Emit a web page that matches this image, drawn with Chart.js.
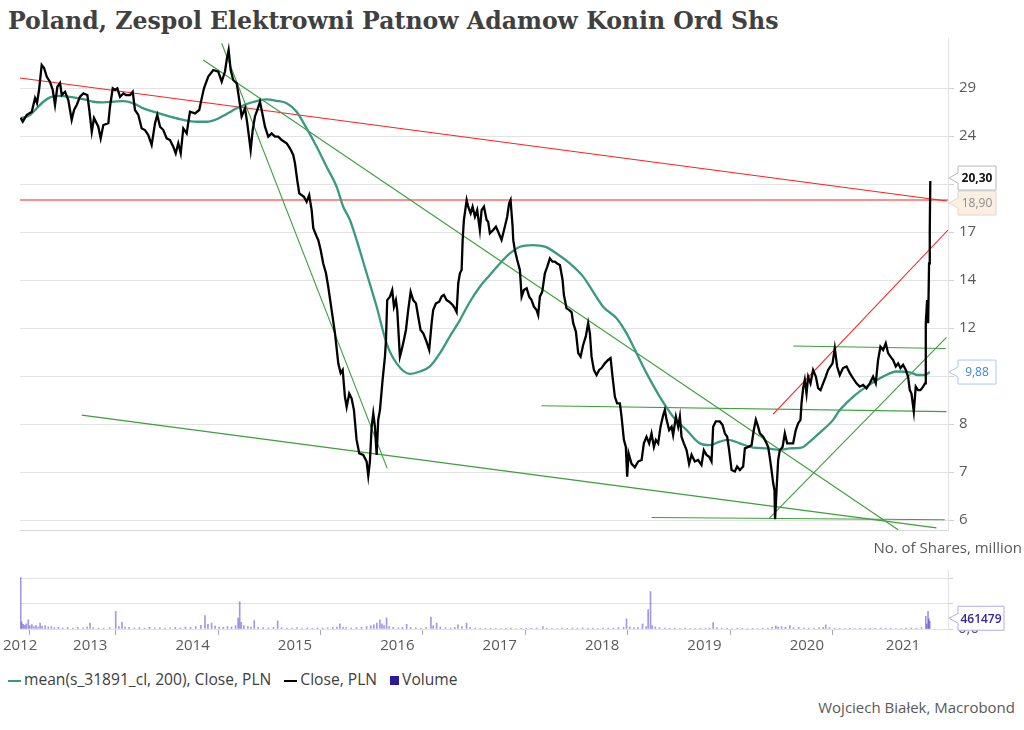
<!DOCTYPE html>
<html>
<head>
<meta charset="utf-8">
<script src="https://cdn.jsdelivr.net/npm/chart.js@4.4.0/dist/chart.umd.min.js"></script>
<style>
  body { margin: 0; background: #fff; width: 1024px; height: 730px; position: relative; overflow: hidden; font-family: 'Open Sans', sans-serif; }
  #title { position: absolute; left: 8px; top: 7px; font: bold 23.6px 'DejaVu Serif', serif; color: #404040; white-space: nowrap; }
  canvas { position: absolute; left: 0; }
  #price { top: 0; }
  #vol { top: 545px; }
  #unit { position: absolute; right: 2px; top: 537px; font-size: 15px; color: #595959; }
  #legend { position: absolute; left: 8px; top: 668px; font-size: 15.6px; color: #404040; white-space: nowrap; }
  #legend span.item { margin-right: 9px; }
  #legend i { display: inline-block; vertical-align: middle; margin-right: 3px; }
  #credit { position: absolute; right: 9px; top: 697px; font-size: 15px; color: #595959; }
</style>
</head>
<body>
<div id="title">Poland, Zespol Elektrowni Patnow Adamow Konin Ord Shs</div>
<canvas id="price" width="1024" height="545"></canvas>
<canvas id="vol" width="1024" height="115"></canvas>
<div id="unit">No. of Shares, million</div>
<div id="legend">
  <span class="item"><i style="width:13px;height:2px;background:#3a9a80"></i>mean(s_31891_cl, 200), Close, PLN</span>
  <span class="item"><i style="width:13px;height:2px;background:#000"></i>Close, PLN</span>
  <span class="item"><i style="width:9px;height:9px;background:#2b1b9b"></i>Volume</span>
</div>
<div id="credit">Wojciech Białek, Macrobond</div>
<script>
// x values are decimal years
const xMin = 2012.814, xMax = 2021.879;

const priceTickValues = [5.655, 6.777, 8.121, 9.733, 11.664, 13.978, 16.752, 20.075, 24.058, 28.83];
const priceTickLabels = ['6', '7', '8', '10', '12', '14', '17', '20', '24', '29'];
const volumeTickValues = [0, 0.5, 1, 1.5, 2, 2.5, 3, 3.5];
const volumeTickLabels = ['0,0', '', '', '', '2,0', '', '', ''];
const yearLabels = [2012, 2013, 2014, 2015, 2016, 2017, 2018, 2019, 2020, 2021];

const close = [
  [2012.821,25.76],[2012.841,25.4],[2012.880,26.05],[2012.929,26.37],[2012.961,27.77],[2012.980,27.25],[2013.000,28.62],[2013.026,31.45],
  [2013.049,31.1],[2013.075,30.1],[2013.107,29.5],[2013.134,28.62],[2013.156,27.05],[2013.179,28.97],[2013.205,29.38],[2013.222,28.08],
  [2013.254,28.43],[2013.286,27.56],[2013.319,25.56],[2013.342,26.54],[2013.368,27.05],[2013.400,27.9],[2013.433,28.26],[2013.472,28.08],
  [2013.491,26.54],[2013.515,24.45],[2013.537,25.75],[2013.579,24.92],[2013.602,23.85],[2013.628,25.08],[2013.677,25.25],[2013.693,26.87],
  [2013.720,28.8],[2013.742,28.62],[2013.765,28.8],[2013.791,27.9],[2013.823,28.26],[2013.849,28.08],[2013.889,28.08],[2013.915,28.43],
  [2013.937,26.54],[2013.970,26.05],[2014.003,24.76],[2014.035,24.61],[2014.067,24.15],[2014.100,23.26],[2014.133,25.25],[2014.155,26.05],
  [2014.182,24.92],[2014.214,24.61],[2014.247,23.85],[2014.279,23.7],[2014.311,23.11],[2014.335,22.54],[2014.360,23.41],[2014.384,22.54],
  [2014.409,24.76],[2014.442,24.3],[2014.474,26.37],[2014.523,26.2],[2014.565,26.54],[2014.589,27.73],[2014.611,28.8],[2014.653,30.1],
  [2014.702,30.86],[2014.751,30.66],[2014.784,29.53],[2014.816,30.66],[2014.833,32.05],[2014.852,33.28],[2014.872,30.86],[2014.897,29.72],
  [2014.931,29.35],[2014.956,27.56],[2014.979,25.9],[2015.012,26.71],[2015.034,25.25],[2015.067,22.82],[2015.087,24.61],[2015.109,25.9],
  [2015.132,26.54],[2015.158,27.38],[2015.178,26.37],[2015.207,24.92],[2015.239,24.0],[2015.272,24.3],[2015.305,24.0],[2015.337,24.0],
  [2015.370,23.7],[2015.419,23.41],[2015.451,22.97],[2015.483,22.4],[2015.500,21.71],[2015.522,20.38],[2015.542,19.38],[2015.588,19.13],
  [2015.614,18.78],[2015.639,19.26],[2015.663,18.2],[2015.679,17.0],[2015.712,16.47],[2015.727,16.26],[2015.751,15.65],[2015.776,14.88],
  [2015.803,14.34],[2015.825,13.63],[2015.858,12.48],[2015.891,11.43],[2015.923,10.21],[2015.946,9.84],[2015.966,9.96],[2015.988,9.0],
  [2016.005,8.66],[2016.030,9.11],[2016.053,8.95],[2016.076,8.56],[2016.102,7.65],[2016.128,7.27],[2016.167,7.23],[2016.200,7.05],
  [2016.216,6.68],[2016.232,7.05],[2016.249,8.04],[2016.265,8.45],[2016.281,8.04],[2016.298,7.23],[2016.313,8.25],[2016.330,8.56],
  [2016.356,9.59],[2016.379,10.47],[2016.389,11.15],[2016.401,12.96],[2016.428,13.13],[2016.450,13.46],[2016.467,12.64],[2016.486,12.96],
  [2016.499,12.48],[2016.525,10.47],[2016.542,10.74],[2016.564,11.15],[2016.584,11.58],[2016.606,12.48],[2016.630,13.37],[2016.655,12.96],
  [2016.682,12.8],[2016.704,12.17],[2016.727,11.58],[2016.753,11.43],[2016.779,11.15],[2016.811,10.74],[2016.835,11.88],[2016.850,12.48],
  [2016.877,12.8],[2016.909,12.88],[2016.932,13.13],[2016.955,13.21],[2016.981,12.96],[2017.007,12.88],[2017.040,12.72],[2017.062,12.56],
  [2017.079,12.39],[2017.095,13.81],[2017.111,14.34],[2017.128,14.52],[2017.138,16.26],[2017.150,17.53],[2017.177,18.9],[2017.192,18.43],
  [2017.216,17.98],[2017.235,18.43],[2017.258,17.75],[2017.280,18.2],[2017.306,16.88],[2017.323,18.2],[2017.346,18.43],[2017.372,17.53],
  [2017.387,17.42],[2017.404,16.67],[2017.436,16.88],[2017.463,17.09],[2017.485,16.77],[2017.518,16.26],[2017.550,17.09],[2017.573,17.75],
  [2017.592,18.66],[2017.606,18.9],[2017.626,17.09],[2017.632,16.26],[2017.648,15.65],[2017.671,15.07],[2017.697,14.52],[2017.714,13.13],
  [2017.736,13.46],[2017.763,13.55],[2017.788,13.13],[2017.811,12.96],[2017.834,12.64],[2017.860,12.48],[2017.876,12.25],[2017.892,13.13],
  [2017.915,13.37],[2017.941,14.34],[2017.964,14.69],[2017.990,15.17],[2018.016,14.98],[2018.039,14.98],[2018.061,14.88],[2018.088,14.79],
  [2018.114,13.98],[2018.127,13.21],[2018.153,12.56],[2018.179,12.48],[2018.202,12.39],[2018.218,11.88],[2018.244,11.51],[2018.267,10.61],
  [2018.290,10.47],[2018.315,10.94],[2018.341,11.3],[2018.364,11.88],[2018.381,11.43],[2018.397,10.47],[2018.420,9.96],[2018.446,9.77],
  [2018.472,9.96],[2018.495,10.03],[2018.527,10.21],[2018.559,10.34],[2018.583,10.41],[2018.602,9.71],[2018.625,9.0],[2018.647,8.78],
  [2018.674,8.78],[2018.690,8.35],[2018.713,7.65],[2018.732,7.45],[2018.745,6.66],[2018.759,7.27],[2018.788,6.99],[2018.820,6.9],
  [2018.852,7.05],[2018.886,7.09],[2018.908,7.55],[2018.934,7.74],[2018.960,7.55],[2018.983,7.84],[2019.006,7.45],[2019.025,7.65],
  [2019.048,7.55],[2019.071,8.04],[2019.097,8.4],[2019.113,8.56],[2019.130,8.25],[2019.155,7.94],[2019.179,8.04],[2019.194,7.79],
  [2019.221,8.35],[2019.243,8.04],[2019.260,8.35],[2019.276,7.74],[2019.299,7.55],[2019.325,7.36],[2019.350,6.99],[2019.374,7.23],
  [2019.406,7.05],[2019.438,7.09],[2019.471,6.96],[2019.494,7.36],[2019.520,7.23],[2019.546,7.18],[2019.569,7.05],[2019.585,8.04],
  [2019.611,8.2],[2019.650,8.2],[2019.677,8.09],[2019.699,7.84],[2019.722,7.74],[2019.741,7.36],[2019.765,6.83],[2019.797,6.79],
  [2019.819,6.92],[2019.846,6.83],[2019.878,6.92],[2019.895,7.41],[2019.927,7.45],[2019.960,7.5],[2019.982,7.94],[2020.002,8.25],
  [2020.024,8.04],[2020.041,7.84],[2020.073,7.74],[2020.099,7.6],[2020.122,7.45],[2020.139,7.14],[2020.155,6.83],[2020.171,6.5],
  [2020.184,6.33],[2020.190,5.67],[2020.204,6.33],[2020.220,7.09],[2020.236,7.36],[2020.263,7.45],[2020.285,7.84],[2020.308,7.55],
  [2020.334,7.55],[2020.366,7.55],[2020.392,7.94],[2020.415,8.14],[2020.438,8.25],[2020.448,8.78],[2020.464,9.3],[2020.480,9.59],
  [2020.497,9.11],[2020.513,9.71],[2020.536,9.47],[2020.561,9.96],[2020.588,9.71],[2020.610,9.3],[2020.634,9.23],[2020.659,9.47],
  [2020.685,9.71],[2020.708,9.96],[2020.731,10.09],[2020.751,10.21],[2020.773,10.81],[2020.796,10.09],[2020.822,9.77],[2020.854,10.03],
  [2020.888,10.09],[2020.920,9.84],[2020.952,9.65],[2020.985,9.47],[2021.017,9.35],[2021.050,9.41],[2021.083,9.29],[2021.115,9.47],
  [2021.147,9.71],[2021.173,9.47],[2021.196,10.34],[2021.219,10.87],[2021.245,10.74],[2021.271,11.01],[2021.294,10.61],[2021.317,10.47],
  [2021.343,10.34],[2021.369,10.09],[2021.392,10.21],[2021.415,10.03],[2021.440,10.15],[2021.467,9.96],[2021.489,9.71],[2021.506,9.23],
  [2021.522,9.11],[2021.545,8.51],[2021.564,9.35],[2021.587,9.23],[2021.610,9.23],[2021.636,9.35],[2021.655,9.47],[2021.662,11.88],
  [2021.675,12.96],[2021.685,11.88],[2021.694,14.88],[2021.701,16.88],[2021.706,20.30]
];

const mean200 = [
  [2012.821,25.73],[2012.912,26.05],[2012.977,26.71],[2013.042,27.38],[2013.107,27.84],[2013.173,28.0],[2013.237,27.97],[2013.335,27.84],
  [2013.432,27.66],[2013.530,27.38],[2013.628,27.32],[2013.725,27.38],[2013.823,27.45],[2013.921,27.22],[2014.019,26.71],[2014.149,26.27],
  [2014.279,25.88],[2014.409,25.56],[2014.540,25.39],[2014.638,25.39],[2014.735,25.63],[2014.833,26.15],[2014.931,26.71],[2015.028,27.15],
  [2015.126,27.45],[2015.223,27.63],[2015.321,27.48],[2015.419,27.22],[2015.516,26.37],[2015.614,24.76],[2015.712,23.11],[2015.809,21.43],
  [2015.907,19.87],[2015.971,18.43],[2016.037,17.53],[2016.102,16.26],[2016.200,14.34],[2016.298,12.64],[2016.395,11.01],[2016.493,10.21],
  [2016.623,9.81],[2016.721,9.9],[2016.818,10.09],[2016.916,10.61],[2017.013,11.3],[2017.111,12.02],[2017.209,12.88],[2017.306,13.63],
  [2017.404,14.25],[2017.502,14.88],[2017.599,15.45],[2017.697,15.85],[2017.827,15.95],[2017.941,15.85],[2018.055,15.45],[2018.185,14.88],
  [2018.315,14.16],[2018.413,13.37],[2018.510,12.64],[2018.641,12.1],[2018.739,11.43],[2018.837,10.61],[2018.934,9.84],[2019.064,9.0],
  [2019.194,8.35],[2019.325,7.94],[2019.455,7.55],[2019.553,7.5],[2019.650,7.6],[2019.731,7.65],[2019.846,7.55],[2019.975,7.43],
  [2020.106,7.41],[2020.236,7.37],[2020.334,7.41],[2020.448,7.43],[2020.529,7.6],[2020.627,7.86],[2020.757,8.25],[2020.822,8.56],
  [2020.952,9.0],[2021.083,9.35],[2021.245,9.71],[2021.376,9.9],[2021.506,9.87],[2021.587,9.77],[2021.652,9.77],[2021.701,9.88]
];

// hand-drawn trend lines: [start, end] as [year, price]
const greenLines = [
  [[2014.784, 34.13], [2016.401, 6.87]],
  [[2014.604, 32.05], [2021.392, 5.45]],
  [[2013.417, 8.40], [2021.766, 5.49]],
  [[2018.983, 5.71], [2021.847, 5.66]],
  [[2017.909, 8.70], [2021.864, 8.51]],
  [[2020.366, 10.90], [2021.857, 10.80]],
  [[2020.132, 5.69], [2021.864, 11.26]]
];
const redLines = [
  [[2012.814, 29.94], [2021.867, 18.83]],
  [[2012.814, 18.90], [2021.879, 18.90]],
  [[2020.171, 8.43], [2021.879, 16.88]]
];
const resistanceLevel = 18.90;

// volume, million shares
const volume = [
  [2012.821,3.05],[2012.83,0.42],[2012.845,0.28],[2012.86,0.22],[2012.875,0.3],[2012.895,0.55],[2012.91,0.2],[2012.93,0.26],
  [2012.95,0.14],[2012.97,0.22],[2012.99,0.12],[2013.010,0.35],[2013.03,0.18],[2013.06,0.2],[2013.09,0.12],[2013.12,0.14],
  [2013.15,0.08],[2013.19,0.1],[2013.23,0.06],[2013.28,0.09],[2013.33,0.05],[2013.38,0.1],[2013.43,0.07],[2013.47,0.12],
  [2013.498,0.35],[2013.53,0.08],[2013.58,0.06],[2013.63,0.05],[2013.69,0.08],[2013.749,1.05],[2013.78,0.15],[2013.810,0.4],
  [2013.84,0.12],[2013.88,0.1],[2013.93,0.06],[2013.98,0.08],[2014.03,0.05],[2014.08,0.1],[2014.13,0.06],[2014.18,0.08],
  [2014.23,0.05],[2014.28,0.07],[2014.33,0.09],[2014.38,0.06],[2014.43,0.12],[2014.48,0.1],[2014.53,0.15],[2014.58,0.22],
  [2014.621,0.79],[2014.65,0.28],[2014.686,0.35],[2014.72,0.18],[2014.76,0.12],[2014.80,0.1],[2014.84,0.15],[2014.88,0.12],
  [2014.92,0.2],[2014.945,0.65],[2014.960,1.62],[2014.975,0.4],[2015.00,0.2],[2015.04,0.15],[2015.07,0.12],[2015.102,0.5],
  [2015.14,0.1],[2015.19,0.08],[2015.24,0.06],[2015.29,0.1],[2015.331,0.48],[2015.37,0.07],[2015.42,0.05],[2015.47,0.06],
  [2015.52,0.08],[2015.57,0.05],[2015.62,0.06],[2015.67,0.05],[2015.72,0.07],[2015.77,0.06],[2015.82,0.08],[2015.87,0.1],
  [2015.91,0.12],[2015.939,0.3],[2015.97,0.1],[2016.00,0.08],[2016.05,0.06],[2016.10,0.08],[2016.15,0.1],[2016.20,0.15],
  [2016.24,0.2],[2016.27,0.25],[2016.30,0.35],[2016.330,0.55],[2016.35,0.3],[2016.37,0.2],[2016.395,0.65],[2016.42,0.15],
  [2016.46,0.1],[2016.51,0.08],[2016.55,0.1],[2016.591,0.28],[2016.63,0.1],[2016.68,0.08],[2016.73,0.06],[2016.78,0.1],
  [2016.828,0.7],[2016.85,0.2],[2016.884,0.35],[2016.92,0.12],[2016.97,0.08],[2017.02,0.06],[2017.06,0.1],[2017.092,0.25],
  [2017.13,0.15],[2017.176,0.35],[2017.21,0.1],[2017.26,0.06],[2017.31,0.05],[2017.36,0.04],[2017.41,0.05],[2017.46,0.04],
  [2017.51,0.03],[2017.56,0.04],[2017.61,0.05],[2017.66,0.03],[2017.71,0.04],[2017.76,0.05],[2017.81,0.04],[2017.86,0.06],
  [2017.922,0.14],[2017.96,0.05],[2018.01,0.04],[2018.06,0.03],[2018.11,0.05],[2018.16,0.04],[2018.21,0.06],[2018.26,0.05],
  [2018.31,0.07],[2018.36,0.05],[2018.41,0.06],[2018.46,0.04],[2018.51,0.05],[2018.56,0.06],[2018.61,0.05],[2018.66,0.08],
  [2018.71,0.1],[2018.739,0.6],[2018.77,0.12],[2018.81,0.08],[2018.85,0.1],[2018.895,0.3],[2018.93,0.15],[2018.950,1.15],
  [2018.973,2.22],[2018.99,0.2],[2019.02,0.12],[2019.06,0.08],[2019.11,0.06],[2019.16,0.05],[2019.21,0.06],[2019.26,0.04],
  [2019.31,0.05],[2019.36,0.04],[2019.41,0.03],[2019.46,0.05],[2019.51,0.04],[2019.55,0.06],[2019.585,0.38],[2019.62,0.08],
  [2019.67,0.05],[2019.72,0.04],[2019.77,0.03],[2019.82,0.05],[2019.87,0.04],[2019.92,0.03],[2019.97,0.04],[2020.02,0.03],
  [2020.07,0.05],[2020.12,0.06],[2020.16,0.1],[2020.197,0.18],[2020.22,0.12],[2020.253,0.14],[2020.29,0.1],[2020.334,0.2],
  [2020.37,0.08],[2020.42,0.1],[2020.47,0.06],[2020.52,0.05],[2020.57,0.06],[2020.62,0.08],[2020.66,0.1],[2020.685,0.24],
  [2020.72,0.08],[2020.77,0.05],[2020.82,0.04],[2020.87,0.03],[2020.92,0.04],[2020.97,0.03],[2021.02,0.04],[2021.07,0.03],
  [2021.12,0.05],[2021.17,0.04],[2021.22,0.06],[2021.27,0.05],[2021.32,0.04],[2021.37,0.03],[2021.42,0.04],[2021.47,0.05],
  [2021.52,0.06],[2021.57,0.05],[2021.62,0.08],[2021.662,0.75],[2021.672,0.3],[2021.684,1.05],[2021.692,0.6],[2021.701,0.461479]
];
const lastVolumeShares = 461479;

const pts = arr => arr.map(p => ({ x: p[0], y: p[1] }));
const comma = v => v.toFixed(2).replace('.', ',');

function drawCallout(ctx, tipY, text, st) {
  const tipX = 949, boxX = 958, w = st.w || 38, h = 24, top = tipY - h / 2;
  ctx.save();
  ctx.beginPath();
  ctx.moveTo(boxX, top);
  ctx.lineTo(boxX + w, top);
  ctx.lineTo(boxX + w, top + h);
  ctx.lineTo(boxX, top + h);
  ctx.lineTo(boxX, tipY + 5);
  ctx.lineTo(tipX, tipY);
  ctx.lineTo(boxX, tipY - 5);
  ctx.closePath();
  ctx.fillStyle = st.fill;
  ctx.fill();
  ctx.strokeStyle = st.stroke;
  ctx.lineWidth = 1;
  ctx.stroke();
  ctx.fillStyle = st.color;
  ctx.font = st.font;
  ctx.textAlign = 'center';
  ctx.textBaseline = 'middle';
  ctx.fillText(text, boxX + w / 2, tipY + 1);
  ctx.restore();
}

const priceCallouts = {
  id: 'priceCallouts',
  afterDraw(chart) {
    const y = chart.scales.y, ctx = chart.ctx;
    const lastClose = close[close.length - 1][1];
    const lastMean = mean200[mean200.length - 1][1];
    // keep the two upper boxes apart
    let y1 = y.getPixelForValue(lastClose), y2 = y.getPixelForValue(resistanceLevel);
    if (y2 - y1 < 25) { const m = (y1 + y2) / 2; y1 = m - 12.5; y2 = m + 12.5; }
    drawCallout(ctx, y2, comma(resistanceLevel), { fill: '#fbefe4', stroke: '#e6d6c6', color: '#8c8c8c', font: '12px "Open Sans"' });
    drawCallout(ctx, y1, comma(lastClose), { fill: '#fff', stroke: '#b8b8b8', color: '#111', font: 'bold 12px "Open Sans"' });
    drawCallout(ctx, y.getPixelForValue(lastMean), comma(lastMean), { fill: '#fff', stroke: '#a9c9f2', color: '#3d86d8', font: '12px "Open Sans"' });
  }
};

const volCallout = {
  id: 'volCallout',
  afterDraw(chart) {
    const y = chart.scales.y;
    drawCallout(chart.ctx, y.getPixelForValue(volume[volume.length - 1][1]) - 3, String(lastVolumeShares),
      { w: 46, fill: '#fff', stroke: '#b3aaf0', color: '#3324a8', font: '600 12px "Open Sans"' });
  }
};

const axisFont = { family: 'Open Sans', size: 15 };

new Chart(document.getElementById('price'), {
  type: 'line',
  data: {
    datasets: [
      { label: 'Close, PLN', data: pts(close), borderColor: '#000', borderWidth: 2.3, pointRadius: 0, order: 0 },
      { label: 'mean(s_31891_cl, 200), Close, PLN', data: pts(mean200), borderColor: '#3a9a80', borderWidth: 2.3,
        pointRadius: 0, cubicInterpolationMode: 'monotone', order: 1 },
      ...greenLines.map(l => ({ data: pts(l), borderColor: '#3c9f3c', borderWidth: 1.1, pointRadius: 0, order: 2 })),
      ...redLines.map(l => ({ data: pts(l), borderColor: '#ff2020', borderWidth: 1.1, pointRadius: 0, order: 2 }))
    ]
  },
  options: {
    responsive: false,
    animation: false,
    layout: { padding: { left: 20, top: 38, right: 0, bottom: 15 } },
    plugins: { legend: { display: false }, tooltip: { enabled: false } },
    scales: {
      x: {
        type: 'linear', min: xMin, max: xMax,
        grid: { display: false }, ticks: { display: false },
        border: { color: '#d9d9d9' },
        afterFit(s) { s.height = 0; }
      },
      y: {
        type: 'logarithmic', position: 'right', min: 5.446, max: 34.82,
        afterFit(s) { s.width = 76; },
        afterBuildTicks(s) { s.ticks = priceTickValues.map(v => ({ value: v })); },
        ticks: { callback: (v, i) => priceTickLabels[i], color: '#595959', font: axisFont, padding: 5 },
        grid: { color: '#e3e3e3', tickLength: 6, tickColor: '#d0d0d0' },
        border: { color: '#e3e3e3' }
      }
    }
  },
  plugins: [priceCallouts]
});

new Chart(document.getElementById('vol'), {
  type: 'bar',
  data: {
    datasets: [{ label: 'Volume', data: pts(volume), backgroundColor: 'rgba(70,50,205,0.5)', barThickness: 1, borderWidth: 0 }]
  },
  options: {
    responsive: false,
    animation: false,
    layout: { padding: { left: 20, top: 25, right: 0, bottom: 0 } },
    plugins: { legend: { display: false }, tooltip: { enabled: false } },
    scales: {
      x: {
        type: 'linear', min: xMin, max: xMax, offset: false,
        afterFit(s) { s.height = 31; },
        afterBuildTicks(s) {
          const t = [];
          yearLabels.forEach(yr => {
            if (yr > xMin) t.push({ value: yr, text: '', boundary: true });
            const pos = yr < xMin ? xMin + 0.001 : (yr + Math.min(yr + 1, xMax)) / 2;
            t.push({ value: pos, text: String(yr), boundary: false });
          });
          s.ticks = t;
        },
        ticks: { callback: (v, i, t) => t[i].text, autoSkip: false, maxRotation: 0, color: '#595959', font: axisFont, padding: 2 },
        grid: {
          drawOnChartArea: false, tickLength: 6,
          tickColor: c => (c.tick && c.tick.boundary) ? '#a8a8a8' : 'rgba(0,0,0,0)'
        },
        border: { display: false }
      },
      y: {
        position: 'right', min: 0, max: 3.5,
        afterFit(s) { s.width = 76; },
        afterBuildTicks(s) { s.ticks = volumeTickValues.map(v => ({ value: v })); },
        ticks: { callback: (v, i) => volumeTickLabels[i], color: '#595959', font: axisFont, padding: 5 },
        grid: { color: '#e3e3e3', tickLength: 5, tickColor: '#d0d0d0' },
        border: { color: '#e3e3e3' }
      }
    }
  },
  plugins: [volCallout]
});
</script>
</body>
</html>
